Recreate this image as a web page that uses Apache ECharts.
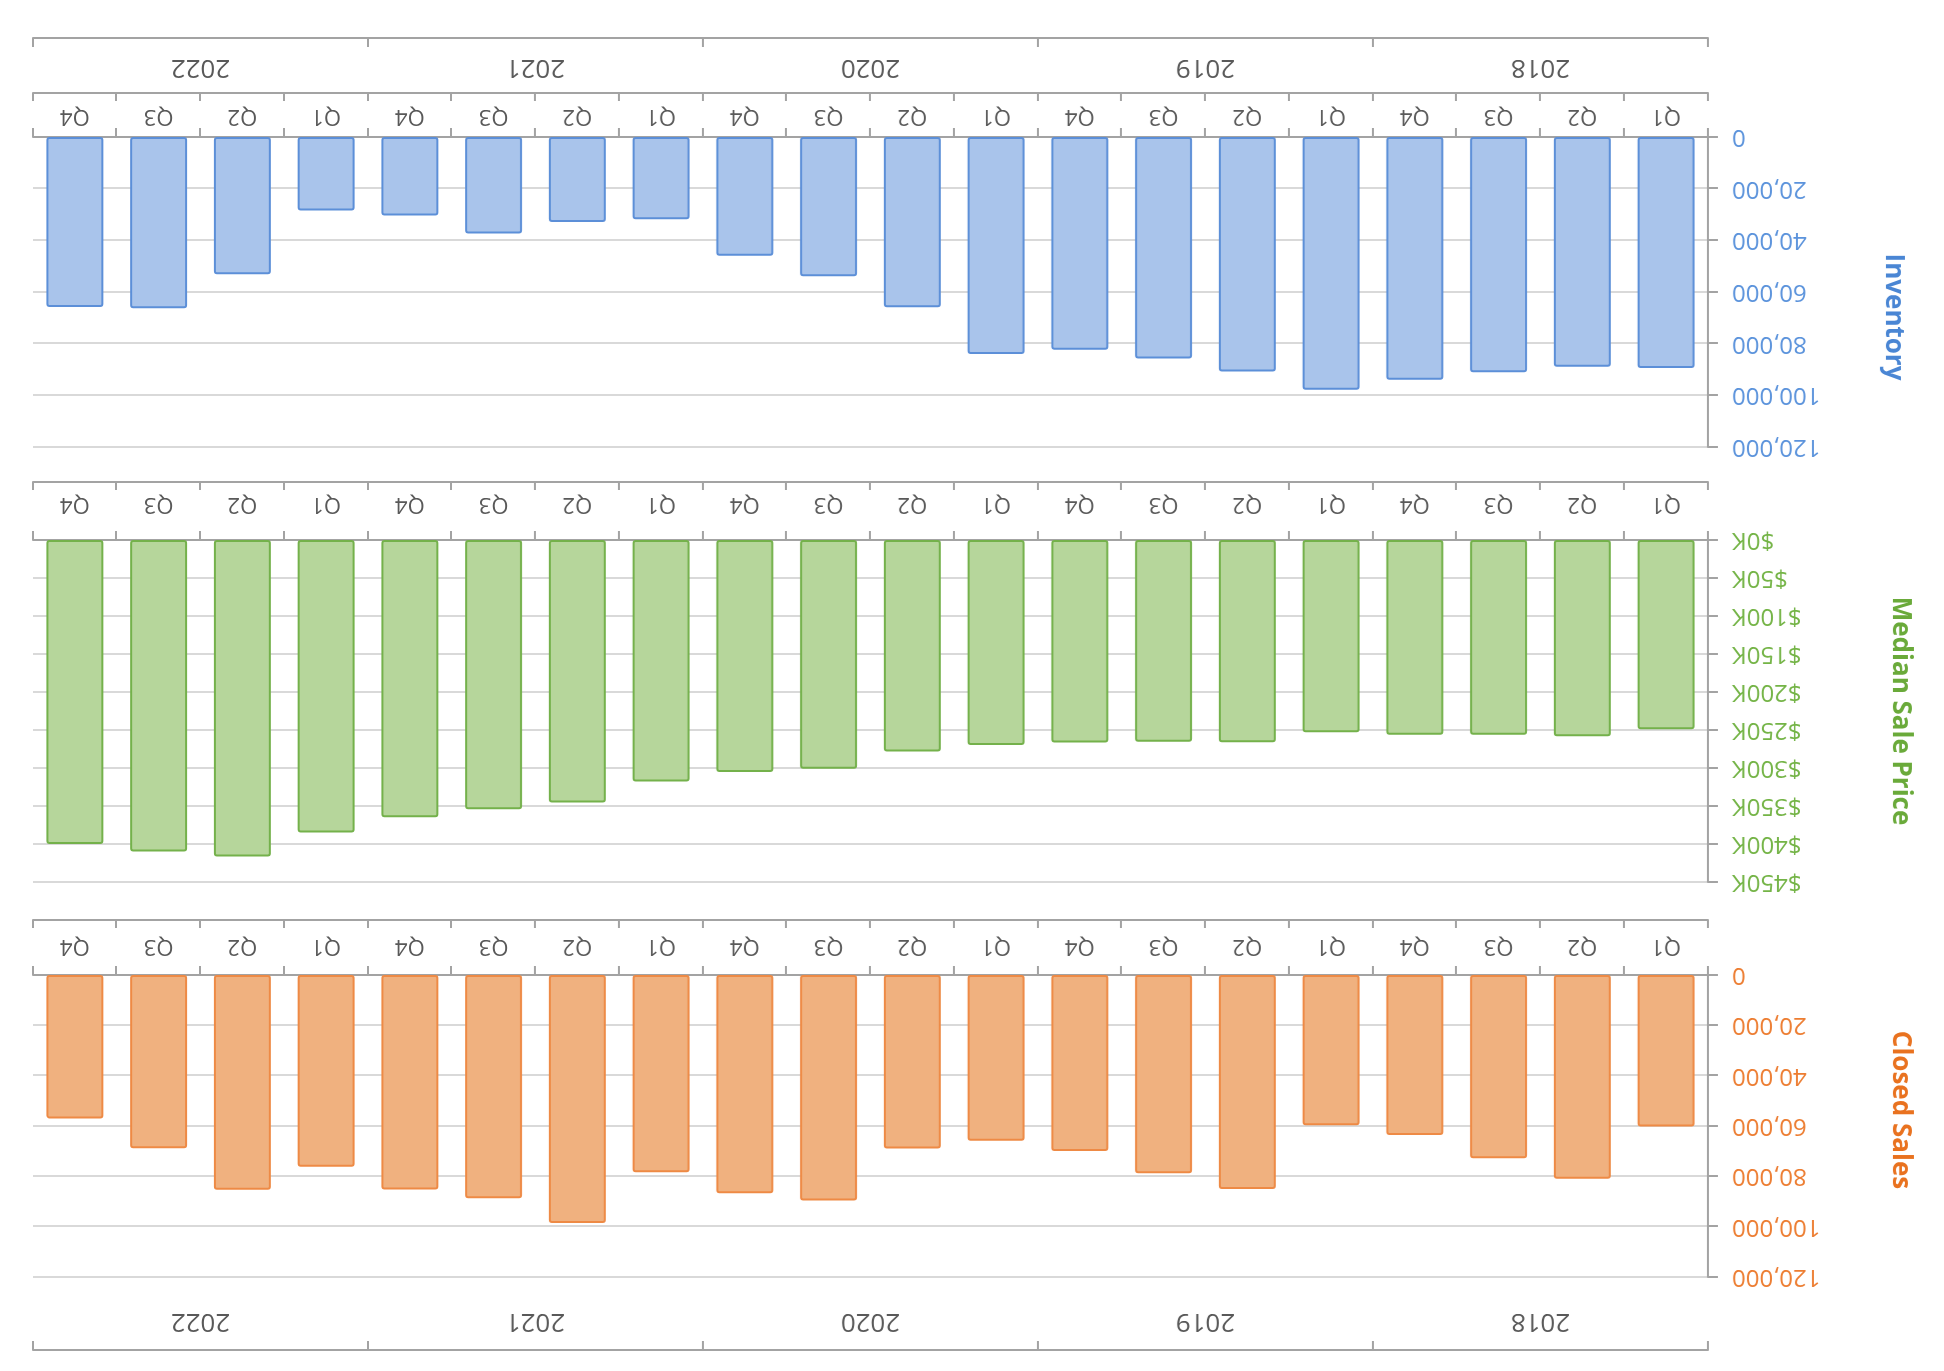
<!DOCTYPE html>
<html>
<head>
<meta charset="utf-8">
<script src="https://cdn.jsdelivr.net/npm/echarts@6/dist/echarts.min.js"></script>
<style>
html, body { margin: 0; padding: 0; background: #ffffff; overflow: hidden; }
#chart { width: 1944px; height: 1371px; transform: rotate(180deg); transform-origin: 50% 50%; }
</style>
</head>
<body>
<div id="chart"></div>
<script>
// ---- data (chronological, Q1 2018 -> Q4 2022) ----
const years = ['2018', '2019', '2020', '2021', '2022'];
const quarterNames = ['Q1', 'Q2', 'Q3', 'Q4'];
const periods = years.flatMap(y => quarterNames.map(q => y + ' ' + q));
const inventory = [89400, 88900, 91100, 94000, 97800, 90800, 85700, 82400, 84000, 65900,
                   53900, 46000, 31800, 32900, 37400, 30400, 28500, 53100, 66300, 65800];
const medianSalePrice = [249000, 258300, 256100, 256100, 253000, 266200, 265300, 266500, 269600, 278400,
                         301000, 305400, 317700, 345500, 354300, 364800, 384800, 416600, 410000, 400000];
const closedSales = [60200, 81000, 72800, 63600, 59700, 85000, 78800, 69900, 65900, 68900,
                     89600, 86700, 78400, 98500, 88700, 85200, 76200, 85300, 68800, 57000];
const countTicks = [0, 120000, 20000];     // min, max, interval
const priceTicks = [0, 450000, 50000];

// ---- styling ----
const FONT = '"Open Sans", "Noto Sans", sans-serif';
const AXIS = '#a3a3a3';
const TEXT = '#595959';
const GRID_LINE = '#d9d9d9';

const gridsDef = [
  { left: 236, right: 33, top: 94, height: 302 },   // Closed Sales
  { left: 236, right: 33, top: 489, height: 342 },  // Median Sale Price
  { left: 236, right: 33, top: 924, height: 310 }   // Inventory
];

function quarterAxis(gi, margin) {
  return {
    type: 'category', gridIndex: gi, position: 'bottom', data: periods,
    axisLine: { show: true, lineStyle: { color: AXIS, width: 2 } },
    axisTick: { show: true, interval: 0, length: 9, lineStyle: { color: AXIS, width: 2 } },
    axisLabel: { interval: 0, margin: margin, color: TEXT, fontFamily: FONT, fontSize: 22,
                 formatter: v => v.split(' ')[1] },
    splitLine: { show: false }
  };
}
function bracketAxis(gi, offset) {
  return {
    type: 'category', gridIndex: gi, position: 'bottom', offset: offset, data: periods,
    axisLine: { show: true, lineStyle: { color: AXIS, width: 2 } },
    axisTick: { show: true, interval: 0, inside: true, length: 8, lineStyle: { color: AXIS, width: 2 } },
    axisLabel: { show: false }, splitLine: { show: false }
  };
}
function yearAxis(gi, position, offset, margin) {
  return {
    type: 'category', gridIndex: gi, position: position, offset: offset, data: years,
    axisLine: { show: true, lineStyle: { color: AXIS, width: 2 } },
    axisTick: { show: true, interval: 0, inside: true, length: 9, lineStyle: { color: AXIS, width: 2 } },
    axisLabel: { show: true, inside: true, interval: 0, margin: margin, color: TEXT, fontFamily: FONT, fontSize: 26 },
    splitLine: { show: false }
  };
}
function valueAxis(gi, ticks, fmt, labelColor, name, titleColor, nameGap, pad) {
  return {
    type: 'value', gridIndex: gi, position: 'left',
    min: ticks[0], max: ticks[1], interval: ticks[2],
    axisLine: { show: true, lineStyle: { color: AXIS, width: 2 } },
    axisTick: { show: true, length: 10, lineStyle: { color: AXIS, width: 2 } },
    axisLabel: { margin: 24, color: labelColor, fontFamily: FONT, fontSize: 24, formatter: fmt },
    splitLine: { show: true, lineStyle: { color: GRID_LINE, width: 2 } },
    name: name, nameLocation: 'middle', nameGap: nameGap,
    nameTextStyle: { color: titleColor, fontFamily: FONT, fontSize: 26, fontWeight: 'bold', padding: pad }
  };
}
const fmtCount = v => v.toLocaleString('en-US');
const fmtPrice = v => '$' + (v / 1000) + 'K';

const option = {
  animation: false,
  backgroundColor: '#ffffff',
  grid: gridsDef,
  xAxis: [
    quarterAxis(0, 18), bracketAxis(0, 55), yearAxis(0, 'top', 73, 16),
    quarterAxis(1, 25), bracketAxis(1, 58),
    quarterAxis(2, 10), bracketAxis(2, 44), yearAxis(2, 'bottom', 99, 16)
  ],
  yAxis: [
    valueAxis(0, countTicks, fmtCount, '#ed7d31', 'Closed Sales', '#e9721f', 179, [0, 32, 0, 0]),
    valueAxis(1, priceTicks, fmtPrice, '#74b446', 'Median Sale Price', '#6aaa3a', 179, [0, 0, 0, 0]),
    valueAxis(2, countTicks, fmtCount, '#5b93dc', 'Inventory', '#4a86d4', 172, [0, 0, 0, 50])
  ],
  series: [
    { type: 'bar', xAxisIndex: 0, yAxisIndex: 0, data: closedSales, barCategoryGap: '32%',
      itemStyle: { color: '#f0b17f', borderColor: '#ee8a45', borderWidth: 2, borderRadius: 2 } },
    { type: 'bar', xAxisIndex: 3, yAxisIndex: 1, data: medianSalePrice, barCategoryGap: '32%',
      itemStyle: { color: '#b6d69b', borderColor: '#74b14b', borderWidth: 2, borderRadius: 2 } },
    { type: 'bar', xAxisIndex: 5, yAxisIndex: 2, data: inventory, barCategoryGap: '32%',
      itemStyle: { color: '#a9c4eb', borderColor: '#5c8fd8', borderWidth: 2, borderRadius: 2 } }
  ]
};

const chart = echarts.init(document.getElementById('chart'), null, { renderer: 'canvas' });
chart.setOption(option);
</script>
</body>
</html>
